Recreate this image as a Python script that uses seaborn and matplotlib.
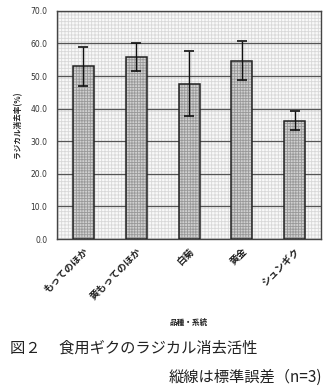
import matplotlib
matplotlib.use("Agg")
import matplotlib.pyplot as plt
from matplotlib.patches import Rectangle
import seaborn as sns
import pandas as pd
import numpy as np

categories = ["もってのほか", "黄もってのほか", "白菊", "黄金", "シュンギク"]
values = [53.0, 55.8, 47.7, 54.7, 36.3]
errors = [6.0, 4.3, 10.1, 6.0, 3.0]
yticks = [0, 10, 20, 30, 40, 50, 60, 70]

sns.set_theme(style="white")
plt.rcParams["font.family"] = ["Noto Sans CJK JP", "DejaVu Sans"]
plt.rcParams["hatch.linewidth"] = 0.6

df = pd.DataFrame({"cat": categories, "val": values, "err": errors})

fig = plt.figure(figsize=(3.32, 3.88), dpi=100)
ax = fig.add_axes([0.172, 0.384, 0.795, 0.588])

ax.patch.set_facecolor("#f9f9f9")
bg = Rectangle((0, 0), 1, 1, transform=ax.transAxes, facecolor="#f9f9f9",
               edgecolor="#d8d8d8", linewidth=0, hatch="+++++", zorder=0)
ax.add_patch(bg)

sns.barplot(data=df, x="cat", y="val", ax=ax, errorbar=None, width=0.4,
            color="#d4d4d4", zorder=3)
bars = [p for p in ax.patches if p is not bg]
for p in bars:
    p.set_hatch("++++++")
    p.set_facecolor("#d0d0d0")
    p.set_edgecolor("#999999")
    p.set_linewidth(0)
    ax.add_patch(Rectangle(p.get_xy(), p.get_width(), p.get_height(), fill=False,
                           edgecolor="#222222", linewidth=1.1, zorder=3.5))

ax.errorbar(np.arange(len(categories)), df["val"], yerr=df["err"], fmt="none",
            ecolor="#111111", elinewidth=1.0, capsize=3.5, capthick=1.2, zorder=4)

ax.set_ylim(0, 70)
ax.set_xlim(-0.5, len(categories) - 0.5)
ax.set_yticks(yticks)
ax.set_yticklabels([f"{v:.1f}" for v in yticks], fontsize=5.5, color="#333333",
                   family=["DejaVu Sans"])
ax.yaxis.grid(True, color="#555555", linewidth=0.9, zorder=1)
ax.set_axisbelow(True)
ax.tick_params(axis="y", length=0, pad=7)
ax.tick_params(axis="x", length=0, pad=5)
ax.set_xticks(np.arange(len(categories)))
ax.set_xticklabels(categories, rotation=45, ha="right", rotation_mode="anchor",
                   fontsize=7, color="#222222", fontweight="bold")
for s in ax.spines.values():
    s.set_color("#444444")
    s.set_linewidth(1.0)

ax.set_xlabel("品種・系統", fontsize=5.5, fontweight="bold", color="#222222", labelpad=12)
ax.set_ylabel("ラジカル消去率(%)", fontsize=5.5, fontweight="bold", color="#222222", labelpad=6)

fig.text(0.03, 1 - 348 / 388, "図２　 食用ギクのラジカル消去活性", fontsize=11,
         va="center", ha="left", color="#222222")
fig.text(0.97, 1 - 377 / 388, "縦線は標準誤差（n=3)", fontsize=11,
         va="center", ha="right", color="#222222")

fig.savefig("out.png", dpi=100)
